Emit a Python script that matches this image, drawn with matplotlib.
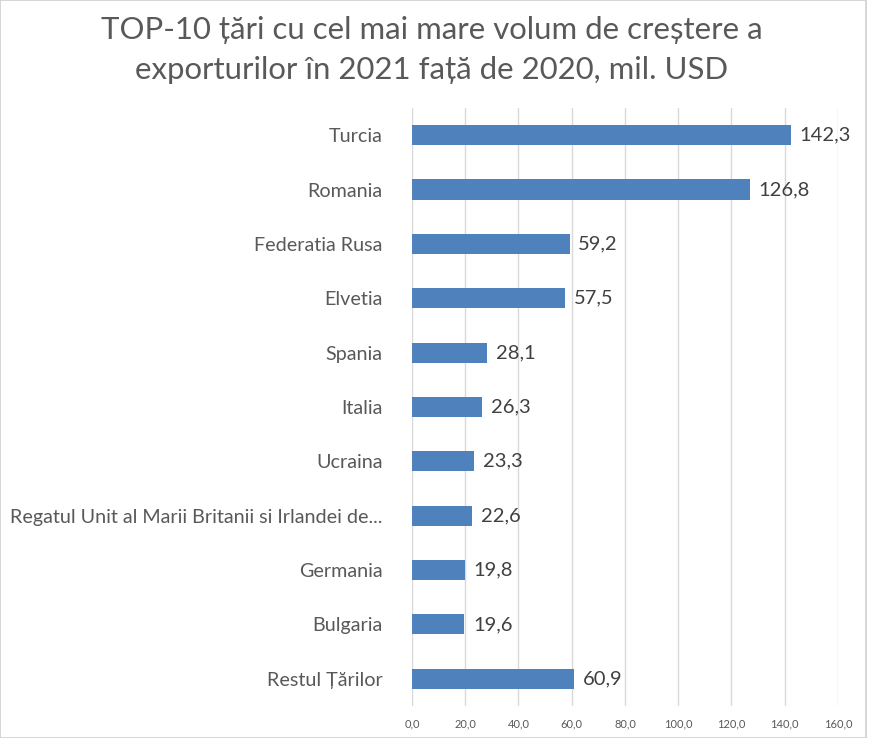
import matplotlib
matplotlib.use("Agg")
import matplotlib.pyplot as plt
from matplotlib.patches import Rectangle

categories = ["Turcia", "Romania", "Federatia Rusa", "Elvetia", "Spania", "Italia",
              "Ucraina", "Regatul Unit al Marii Britanii si Irlandei de...",
              "Germania", "Bulgaria", "Restul Țărilor"]
values = [142.3, 126.8, 59.2, 57.5, 28.1, 26.3, 23.3, 22.6, 19.8, 19.6, 60.9]
xticks = [0, 20, 40, 60, 80, 100, 120, 140, 160]
title = "TOP-10 țări cu cel mai mare volum de creștere a\nexporturilor în 2021 față de 2020, mil. USD"

plt.rcParams['font.family'] = ['Lato', 'DejaVu Sans']
txt = "#595959"

fig = plt.figure(figsize=(8.69, 7.38), dpi=100)
ax = fig.add_axes([0.474, 0.0434, 0.4903, 0.8103])

y = list(range(len(categories)))
ax.barh(y, values, height=0.37, color="#4F81BD", zorder=3)
ax.set_ylim(len(categories) - 0.5, -0.5)
ax.set_xlim(0, 160)
ax.set_xticks(xticks)
ax.set_xticklabels([f"{v:.1f}".replace(".", ",") for v in xticks], fontsize=8, color=txt)
ax.set_yticks(y)
ax.set_yticklabels(categories, fontsize=14.2, color=txt)
ax.tick_params(axis='y', length=0, pad=21)
ax.tick_params(axis='x', length=0, pad=9)
ax.grid(axis='x', color="#D9D9D9", linewidth=1, zorder=0)
for s in ax.spines.values():
    s.set_visible(False)

for yi, v in zip(y, values):
    ax.text(v + 3.3, yi, f"{v:.1f}".replace(".", ","), va='center', ha='left',
            fontsize=14.5, color="#404040")

fig.text(0.497, 0.978, title, ha='center', va='top', fontsize=22.4, color=txt,
         linespacing=1.5)

fig.patches.append(Rectangle((0.0005, 0), 0.996, 1.0, transform=fig.transFigure,
                             fill=False, edgecolor="#D0D0D0", linewidth=1.2))

fig.savefig("out.png", dpi=100)
